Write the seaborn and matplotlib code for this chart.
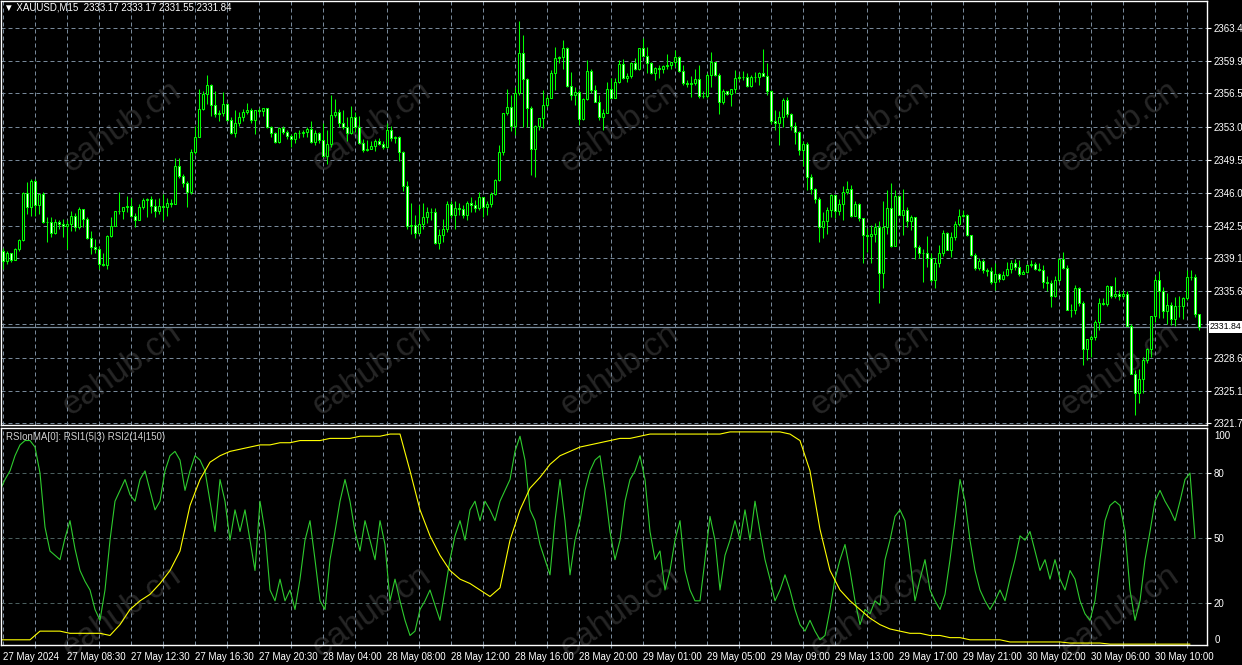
import numpy as np
import pandas as pd
import matplotlib
matplotlib.use("Agg")
import matplotlib.pyplot as plt
import seaborn as sns

# XAUUSD M15, 300 bars (27 May 2024 .. 30 May 2024)
opens = [
    2339.9, 2338.8, 2339.6, 2338.9, 2340.1, 2341.0, 2346.0, 2344.5, 2347.3, 2344.7,
    2345.9, 2342.9, 2342.9, 2341.8, 2342.9, 2342.7, 2342.5, 2342.7, 2343.6, 2342.4,
    2344.3, 2343.2, 2341.2, 2340.3, 2340.1, 2338.5, 2338.4, 2341.4, 2342.5, 2344.1,
    2344.1, 2344.5, 2344.6, 2343.6, 2343.1, 2344.5, 2345.2, 2345.4, 2344.6, 2344.1,
    2344.6, 2344.5, 2344.9, 2344.8, 2348.8, 2347.8, 2347.0, 2346.1, 2350.3, 2351.9,
    2354.9, 2356.4, 2357.4, 2355.3, 2354.3, 2354.4, 2355.4, 2353.7, 2352.3, 2353.4,
    2354.0, 2354.5, 2354.7, 2353.7, 2354.7, 2354.6, 2355.0, 2352.9, 2352.3, 2351.4,
    2352.8, 2352.4, 2352.0, 2351.7, 2352.3, 2352.3, 2352.4, 2352.7, 2351.4, 2352.3,
    2351.6, 2349.9, 2351.2, 2354.2, 2354.5, 2353.4, 2353.0, 2352.3, 2354.0, 2353.0,
    2351.3, 2350.5, 2350.6, 2350.9, 2351.5, 2351.2, 2350.8, 2352.6, 2351.8, 2351.9,
    2350.3, 2346.7, 2342.5, 2342.6, 2341.8, 2342.7, 2343.5, 2344.0, 2344.0, 2340.7,
    2341.5, 2342.2, 2344.8, 2343.7, 2344.4, 2344.3, 2343.7, 2344.9, 2344.7, 2344.4,
    2345.6, 2344.5, 2344.8, 2345.9, 2347.4, 2350.3, 2354.4, 2355.1, 2353.1, 2356.5,
    2360.8, 2358.0, 2355.0, 2350.6, 2353.1, 2353.9, 2355.3, 2356.0, 2358.7, 2360.2,
    2360.3, 2361.3, 2357.3, 2356.3, 2356.6, 2353.8, 2355.9, 2358.9, 2356.9, 2355.6,
    2354.0, 2354.4, 2357.0, 2356.0, 2357.7, 2359.6, 2358.1, 2358.3, 2359.7, 2359.1,
    2361.3, 2360.4, 2359.7, 2358.7, 2359.2, 2359.1, 2359.4, 2359.5, 2359.8, 2360.3,
    2358.9, 2357.6, 2357.5, 2357.6, 2358.0, 2356.2, 2356.2, 2358.4, 2359.8, 2358.4,
    2355.6, 2356.8, 2356.4, 2357.0, 2358.1, 2358.2, 2358.2, 2357.3, 2358.2, 2358.2,
    2358.6, 2358.3, 2356.8, 2353.6, 2353.4, 2354.0, 2355.8, 2354.3, 2353.1, 2352.4,
    2350.5, 2351.2, 2347.7, 2346.4, 2345.4, 2342.4, 2343.0, 2344.2, 2345.8, 2344.1,
    2344.8, 2346.1, 2346.4, 2343.6, 2344.8, 2343.3, 2341.6, 2341.4, 2341.7, 2342.4,
    2337.5, 2342.4, 2344.4, 2340.4, 2345.7, 2343.7, 2344.2, 2343.0, 2343.4, 2340.3,
    2339.6, 2339.6, 2339.1, 2336.8, 2338.6, 2339.7, 2341.8, 2340.0, 2341.3, 2342.7,
    2343.6, 2343.7, 2341.6, 2339.4, 2338.1, 2338.8, 2337.8, 2337.7, 2336.6, 2337.4,
    2336.9, 2337.3, 2338.0, 2338.6, 2338.2, 2337.4, 2337.6, 2338.4, 2338.5, 2338.0,
    2337.8, 2336.6, 2336.5, 2335.1, 2336.8, 2339.0, 2338.1, 2333.6, 2333.6, 2336.0,
    2334.4, 2329.5, 2330.6, 2330.8, 2332.4, 2334.4, 2334.3, 2336.2, 2335.1, 2335.3,
    2335.1, 2335.3, 2331.9, 2326.9, 2324.9, 2326.3, 2328.3, 2329.5, 2333.0, 2336.8,
    2335.6, 2333.5, 2334.2, 2332.7, 2334.1, 2334.1, 2334.9, 2337.1, 2337.1, 2333.17,
]
highs = [
    2340.2, 2339.9, 2339.7, 2340.2, 2341.1, 2346.1, 2347.1, 2347.5, 2347.5, 2345.9,
    2346.1, 2343.4, 2343.4, 2343.2, 2343.1, 2343.2, 2343.1, 2344.1, 2343.9, 2344.5,
    2344.3, 2343.4, 2342.0, 2341.1, 2340.4, 2339.7, 2341.5, 2343.4, 2344.1, 2346.1,
    2344.5, 2345.7, 2345.5, 2343.9, 2344.8, 2345.5, 2345.5, 2345.7, 2345.3, 2345.5,
    2345.9, 2345.5, 2345.3, 2349.7, 2349.7, 2348.0, 2347.3, 2350.6, 2353.1, 2357.0,
    2356.8, 2358.4, 2357.5, 2356.8, 2354.7, 2356.6, 2355.5, 2354.0, 2354.7, 2354.5,
    2354.8, 2355.5, 2355.0, 2354.7, 2355.0, 2355.0, 2355.0, 2353.1, 2352.4, 2353.0,
    2353.1, 2352.6, 2352.2, 2352.4, 2352.6, 2352.6, 2353.0, 2353.6, 2352.6, 2352.4,
    2353.4, 2352.6, 2356.3, 2355.9, 2354.8, 2354.7, 2354.0, 2355.2, 2354.5, 2354.1,
    2351.7, 2351.6, 2351.5, 2351.7, 2351.8, 2351.5, 2353.4, 2353.1, 2352.0, 2352.0,
    2350.4, 2347.3, 2344.9, 2343.7, 2344.7, 2344.9, 2344.5, 2344.4, 2344.4, 2342.2,
    2343.2, 2345.1, 2345.1, 2345.1, 2344.9, 2344.7, 2345.1, 2345.6, 2345.2, 2346.1,
    2345.6, 2345.1, 2346.1, 2347.5, 2351.0, 2354.4, 2357.0, 2356.3, 2357.2, 2364.1,
    2362.7, 2358.1, 2355.2, 2353.2, 2353.9, 2356.9, 2356.3, 2359.0, 2361.4, 2360.4,
    2362.1, 2361.4, 2358.8, 2357.2, 2356.9, 2356.0, 2360.0, 2359.1, 2357.4, 2356.3,
    2354.9, 2357.7, 2358.1, 2358.1, 2360.0, 2360.1, 2358.6, 2359.8, 2360.2, 2361.3,
    2362.3, 2361.4, 2359.8, 2359.3, 2359.5, 2359.5, 2360.7, 2359.8, 2361.1, 2360.4,
    2359.5, 2357.9, 2358.3, 2359.1, 2359.5, 2356.7, 2358.6, 2360.9, 2359.8, 2358.6,
    2357.0, 2356.8, 2357.0, 2359.0, 2358.5, 2358.9, 2358.6, 2358.4, 2358.8, 2358.8,
    2361.2, 2359.7, 2356.9, 2354.7, 2354.6, 2356.0, 2356.1, 2354.4, 2353.5, 2352.5,
    2351.5, 2351.4, 2348.0, 2346.5, 2345.6, 2344.0, 2344.5, 2345.9, 2345.8, 2345.4,
    2346.7, 2347.2, 2346.8, 2345.1, 2344.9, 2343.3, 2342.3, 2342.6, 2342.8, 2343.0,
    2345.1, 2346.3, 2347.0, 2346.3, 2345.8, 2346.4, 2344.5, 2343.7, 2343.5, 2340.5,
    2340.1, 2341.4, 2339.6, 2339.1, 2340.5, 2342.1, 2341.9, 2341.9, 2343.0, 2344.3,
    2344.2, 2343.8, 2341.6, 2339.6, 2339.1, 2339.0, 2338.1, 2338.2, 2338.6, 2337.5,
    2337.7, 2338.7, 2338.9, 2339.0, 2338.9, 2337.9, 2338.5, 2338.9, 2338.7, 2338.6,
    2338.4, 2337.2, 2336.8, 2337.2, 2339.1, 2339.8, 2338.4, 2334.3, 2336.3, 2336.1,
    2334.6, 2330.6, 2331.0, 2332.6, 2334.9, 2334.9, 2336.3, 2336.1, 2337.1, 2335.7,
    2335.7, 2335.6, 2332.2, 2327.3, 2327.4, 2328.7, 2329.6, 2333.0, 2337.2, 2337.7,
    2336.1, 2335.4, 2334.5, 2335.0, 2335.1, 2335.0, 2337.8, 2337.9, 2337.4, 2333.17,
]
lows = [
    2338.0, 2338.5, 2338.7, 2338.9, 2339.9, 2340.9, 2343.8, 2343.6, 2343.6, 2343.8,
    2342.8, 2340.8, 2341.3, 2341.7, 2342.2, 2341.3, 2340.1, 2342.0, 2342.0, 2342.2,
    2342.4, 2341.1, 2339.5, 2339.7, 2338.0, 2338.3, 2338.0, 2341.3, 2342.5, 2343.8,
    2343.2, 2344.0, 2343.4, 2342.4, 2343.1, 2344.3, 2343.4, 2343.9, 2343.4, 2343.8,
    2343.1, 2343.6, 2344.5, 2344.8, 2347.6, 2346.6, 2344.5, 2345.9, 2350.1, 2351.9,
    2354.7, 2355.4, 2354.1, 2354.0, 2353.6, 2354.1, 2353.6, 2352.2, 2351.9, 2353.1,
    2353.6, 2354.3, 2353.4, 2352.2, 2354.3, 2354.1, 2352.8, 2351.9, 2351.3, 2351.3,
    2352.2, 2351.7, 2350.8, 2351.3, 2351.8, 2351.9, 2351.9, 2351.3, 2351.0, 2351.3,
    2349.8, 2349.0, 2350.8, 2354.0, 2352.9, 2352.7, 2351.5, 2352.2, 2352.4, 2351.2,
    2350.3, 2350.4, 2350.6, 2350.4, 2351.0, 2350.6, 2350.7, 2351.5, 2351.3, 2349.4,
    2346.2, 2342.2, 2341.7, 2341.2, 2341.7, 2342.2, 2342.8, 2343.1, 2340.6, 2340.1,
    2340.8, 2341.9, 2343.3, 2342.2, 2343.7, 2343.3, 2343.1, 2344.0, 2344.0, 2344.2,
    2343.5, 2343.7, 2344.5, 2345.8, 2347.2, 2350.0, 2354.2, 2352.5, 2352.1, 2356.3,
    2353.0, 2353.0, 2347.9, 2347.7, 2352.6, 2352.8, 2355.1, 2356.0, 2356.9, 2359.7,
    2359.1, 2357.2, 2355.8, 2355.3, 2353.2, 2353.7, 2355.8, 2356.5, 2355.6, 2353.7,
    2352.6, 2354.4, 2356.0, 2356.0, 2357.6, 2358.0, 2357.7, 2358.1, 2359.0, 2359.0,
    2360.4, 2358.7, 2358.5, 2357.9, 2358.1, 2358.6, 2359.1, 2359.1, 2359.3, 2358.8,
    2357.4, 2357.2, 2356.1, 2357.4, 2356.0, 2356.0, 2356.0, 2357.2, 2358.3, 2354.3,
    2355.4, 2356.3, 2355.2, 2356.5, 2357.9, 2357.9, 2357.2, 2357.2, 2357.7, 2357.4,
    2358.3, 2356.3, 2353.3, 2352.6, 2351.0, 2353.0, 2354.0, 2352.6, 2351.2, 2350.0,
    2348.8, 2346.3, 2345.9, 2344.9, 2340.8, 2341.2, 2341.7, 2343.5, 2343.3, 2343.7,
    2343.1, 2345.9, 2343.5, 2343.7, 2343.0, 2338.6, 2339.8, 2338.6, 2340.8, 2334.4,
    2335.9, 2341.7, 2340.3, 2340.5, 2343.7, 2341.5, 2342.4, 2342.1, 2339.0, 2339.1,
    2336.6, 2338.2, 2336.6, 2335.9, 2338.2, 2339.3, 2340.0, 2339.2, 2341.0, 2342.5,
    2343.5, 2341.4, 2339.3, 2337.9, 2337.9, 2337.5, 2337.2, 2336.4, 2335.7, 2336.6,
    2336.8, 2337.2, 2337.5, 2337.9, 2337.2, 2337.4, 2337.5, 2338.2, 2337.9, 2337.7,
    2335.9, 2335.6, 2333.9, 2335.0, 2336.6, 2338.0, 2333.6, 2332.9, 2333.2, 2334.0,
    2327.8, 2328.3, 2328.7, 2330.5, 2331.5, 2334.2, 2334.0, 2334.9, 2334.9, 2334.7,
    2334.9, 2331.9, 2326.9, 2322.5, 2323.8, 2324.9, 2328.0, 2328.7, 2332.4, 2332.8,
    2332.8, 2332.2, 2332.0, 2331.9, 2332.9, 2332.7, 2334.7, 2336.8, 2332.9, 2331.55,
]
closes = [
    2338.8, 2339.6, 2338.9, 2340.1, 2341.0, 2346.0, 2344.5, 2347.3, 2344.7, 2345.9,
    2342.9, 2342.9, 2341.8, 2342.9, 2342.7, 2342.5, 2342.7, 2343.6, 2342.4, 2344.3,
    2343.2, 2341.2, 2340.3, 2340.1, 2338.5, 2338.4, 2341.4, 2342.5, 2344.1, 2344.1,
    2344.5, 2344.6, 2343.6, 2343.1, 2344.5, 2345.2, 2345.4, 2344.6, 2344.1, 2344.6,
    2344.5, 2344.9, 2344.8, 2348.8, 2347.8, 2347.0, 2346.1, 2350.3, 2351.9, 2354.9,
    2356.4, 2357.4, 2355.3, 2354.3, 2354.4, 2355.4, 2353.7, 2352.3, 2353.4, 2354.0,
    2354.5, 2354.7, 2353.7, 2354.7, 2354.6, 2355.0, 2352.9, 2352.3, 2351.4, 2352.8,
    2352.4, 2352.0, 2351.7, 2352.3, 2352.3, 2352.4, 2352.7, 2351.4, 2352.3, 2351.6,
    2349.9, 2351.2, 2354.2, 2354.5, 2353.4, 2353.0, 2352.3, 2354.0, 2353.0, 2351.3,
    2350.5, 2350.6, 2350.9, 2351.5, 2351.2, 2350.8, 2352.6, 2351.8, 2351.9, 2350.3,
    2346.7, 2342.5, 2342.6, 2341.8, 2342.7, 2343.5, 2344.0, 2344.0, 2340.7, 2341.5,
    2342.2, 2344.8, 2343.7, 2344.4, 2344.3, 2343.7, 2344.9, 2344.7, 2344.4, 2345.6,
    2344.5, 2344.8, 2345.9, 2347.4, 2350.3, 2354.4, 2355.1, 2353.1, 2356.5, 2360.8,
    2358.0, 2355.0, 2350.6, 2353.1, 2353.9, 2355.3, 2356.0, 2358.7, 2360.2, 2360.3,
    2361.3, 2357.3, 2356.3, 2356.6, 2353.8, 2355.9, 2358.9, 2356.9, 2355.6, 2354.0,
    2354.4, 2357.0, 2356.0, 2357.7, 2359.6, 2358.1, 2358.3, 2359.7, 2359.1, 2361.3,
    2360.4, 2359.7, 2358.7, 2359.2, 2359.1, 2359.4, 2359.5, 2359.8, 2360.3, 2358.9,
    2357.6, 2357.5, 2357.6, 2358.0, 2356.2, 2356.2, 2358.4, 2359.8, 2358.4, 2355.6,
    2356.8, 2356.4, 2357.0, 2358.1, 2358.2, 2358.2, 2357.3, 2358.2, 2358.2, 2358.6,
    2358.3, 2356.8, 2353.6, 2353.4, 2354.0, 2355.8, 2354.3, 2353.1, 2352.4, 2350.5,
    2351.2, 2347.7, 2346.4, 2345.4, 2342.4, 2343.0, 2344.2, 2345.8, 2344.1, 2344.8,
    2346.1, 2346.4, 2343.6, 2344.8, 2343.3, 2341.6, 2341.4, 2341.7, 2342.4, 2337.5,
    2342.4, 2344.4, 2340.4, 2345.7, 2343.7, 2344.2, 2343.0, 2343.4, 2340.3, 2339.6,
    2339.6, 2339.1, 2336.8, 2338.6, 2339.7, 2341.8, 2340.0, 2341.3, 2342.7, 2343.6,
    2343.7, 2341.6, 2339.4, 2338.1, 2338.8, 2337.8, 2337.7, 2336.6, 2337.4, 2336.9,
    2337.3, 2338.0, 2338.6, 2338.2, 2337.4, 2337.6, 2338.4, 2338.5, 2338.0, 2337.8,
    2336.6, 2336.5, 2335.1, 2336.8, 2339.0, 2338.1, 2333.6, 2333.6, 2336.0, 2334.4,
    2329.5, 2330.6, 2330.8, 2332.4, 2334.4, 2334.3, 2336.2, 2335.1, 2335.3, 2335.1,
    2335.3, 2331.9, 2326.9, 2324.9, 2326.3, 2328.3, 2329.5, 2333.0, 2336.8, 2335.6,
    2333.5, 2334.2, 2332.7, 2334.1, 2334.1, 2334.9, 2337.1, 2337.1, 2333.17, 2331.84,
]

time_labels = [
    "27 May 2024", "27 May 08:30", "27 May 12:30", "27 May 16:30", "27 May 20:30",
    "28 May 04:00", "28 May 08:00", "28 May 12:00", "28 May 16:00", "28 May 20:00",
    "29 May 01:00", "29 May 05:00", "29 May 09:00", "29 May 13:00", "29 May 17:00",
    "29 May 21:00", "30 May 02:00", "30 May 06:00", "30 May 10:00",
]
price_levels = [2363.4, 2359.9, 2356.5, 2353.0, 2349.5, 2346.0, 2342.5,
                2339.1, 2335.6, 2332.1, 2328.6, 2325.1, 2321.7]
bid = 2331.84
title = "\u25bc XAUUSD,M15  2333.17 2333.17 2331.55 2331.84"
rsi_title = "RSIonMA[0]: RSI1(5|3) RSI2(14|150)"
rsi_levels = [20, 50, 80]

# RSI1(5|3), read every 1.25 bars
rsi_fast = [
    72, 77, 81, 88, 93, 95, 95, 92, 80, 55, 44, 42, 40, 50, 58, 45, 35, 30, 26, 17,
    12, 26, 49, 67, 72, 77, 70, 67, 77, 81, 72, 63, 67, 81, 88, 90, 86, 72, 81, 88,
    86, 81, 67, 53, 77, 67, 49, 63, 53, 63, 49, 35, 67, 53, 26, 21, 31, 21, 26, 17,
    31, 49, 58, 40, 21, 17, 40, 53, 67, 77, 67, 53, 44, 58, 49, 40, 58, 47, 21, 31,
    21, 12, 5, 7, 17, 21, 26, 19, 12, 26, 40, 51, 58, 49, 63, 67, 58, 67, 63, 58,
    67, 72, 77, 90, 97, 86, 63, 58, 47, 40, 33, 58, 77, 58, 33, 49, 58, 72, 81, 86,
    88, 72, 53, 40, 49, 67, 77, 81, 88, 77, 53, 40, 44, 26, 35, 49, 58, 35, 26, 21,
    21, 40, 60, 49, 26, 42, 49, 58, 49, 63, 49, 67, 53, 40, 31, 21, 26, 33, 26, 17,
    10, 7, 12, 7, 3, 5, 17, 31, 40, 47, 35, 21, 10, 17, 15, 21, 19, 40, 49, 60,
    63, 58, 40, 21, 31, 40, 26, 21, 17, 24, 40, 58, 77, 67, 49, 35, 26, 21, 17, 21,
    26, 21, 31, 40, 51, 49, 53, 44, 35, 40, 31, 40, 31, 26, 35, 31, 21, 15, 12, 21,
    40, 58, 65, 67, 65, 53, 26, 12, 21, 40, 53, 67, 72, 67, 63, 58, 67, 77, 80, 50,
]
# RSI2(14|150), read every 2.5 bars
rsi_slow = [
    3, 3, 3, 3, 7, 7, 7, 6, 6, 6,
    6, 5, 10, 17, 21, 24, 29, 35, 44, 65,
    77, 85, 88, 90, 91, 92, 93, 93, 94, 94,
    95, 95, 95, 96, 96, 96, 97, 97, 97, 98,
    98, 81, 63, 51, 42, 35, 31, 29, 26, 23,
    27, 49, 63, 73, 78, 84, 88, 90, 92, 93,
    94, 95, 96, 96, 97, 98, 98, 98, 98, 98,
    98, 98, 98, 99, 99, 99, 99, 99, 99, 98,
    95, 81, 54, 35, 26, 21, 17, 13, 10, 8,
    7, 6, 6, 5, 5, 4, 4, 3, 3, 3,
    3, 2, 2, 2, 2, 2, 2, 1.5, 1.5, 1.5,
    1.5, 1, 1, 1, 1, 1, 1, 1, 1, 1,
]

assert len(opens) == len(highs) == len(lows) == len(closes) == 300

LIME = "#00ff00"
GRID = "#778899"
DASH = (0, (4, 3))
W, H = 1242, 665

sns.set_theme(style="dark", rc={"axes.facecolor": "none", "figure.facecolor": "black"})
plt.rcParams["font.family"] = ["Liberation Sans", "DejaVu Sans"]

fig = plt.figure(figsize=(W / 100, H / 100), dpi=100, facecolor="black")
ax = fig.add_axes([1 / W, 240 / H, 1206 / W, 424 / H])
ax2 = fig.add_axes([1 / W, 20 / H, 1206 / W, 217 / H])

# watermark, behind everything
for wy in (127, 370, 612):
    for wx in (122, 372, 620, 870, 1120):
        fig.text(wx / W, 1 - wy / H, "eahub.cn", rotation=35, ha="center", va="center",
                 fontsize=24, color="#262626", zorder=-1)

df = pd.DataFrame({"o": opens, "h": highs, "l": lows, "c": closes})
df["x"] = np.arange(len(df))
bull = df["c"] >= df["o"]

ax.vlines(df["x"], df["l"], df["h"], color=LIME, linewidth=0.75, zorder=2)
ax.bar(df["x"], (df["c"] - df["o"]).abs(), bottom=np.minimum(df["o"], df["c"]),
       width=0.5, color=np.where(bull, "black", "white"), edgecolor=LIME,
       linewidth=0.75, zorder=3)
ax.axhline(bid, color=GRID, linewidth=0.9, zorder=1.5)

ax.set_xlim(-0.5, 301)
ax.set_ylim(2321.49, 2366.25)
ax.set_xticks(range(0, 301, 8))
ax.set_xticklabels([])
ax.tick_params(axis="x", length=0)
ax.yaxis.tick_right()
ax.set_yticks(price_levels)
ax.set_yticklabels(["" if p == 2332.1 else f"{p:.1f}" for p in price_levels])
ax.tick_params(axis="y", colors="white", labelcolor="white", labelsize=7,
               length=3, width=0.8, pad=2)
ax.grid(True, color=GRID, linestyle=DASH, linewidth=0.72)
ax.annotate(f"{bid:.2f}", xy=(1, bid), xycoords=("axes fraction", "data"),
            xytext=(2, 0), textcoords="offset points", va="center", ha="left",
            fontsize=6.3, color="black", annotation_clip=False,
            bbox=dict(boxstyle="square,pad=0.12", fc="white", ec="none"))

# RSI panel
fast_pos = np.arange(len(rsi_fast)) * 1.25 - 0.75
slow_pos = np.arange(len(rsi_slow)) * 2.5 - 0.75
sns.lineplot(x=fast_pos, y=rsi_fast, ax=ax2, color="#2ecc2e", linewidth=0.8, legend=False)
sns.lineplot(x=slow_pos, y=rsi_slow, ax=ax2, color="#ffff00", linewidth=0.8, legend=False)
for lv in rsi_levels:
    ax2.axhline(lv, color="#4a5e5e", linestyle=DASH, linewidth=0.72, zorder=0.6)

ax2.set_xlim(-0.5, 301)
ax2.set_ylim(0.6, 100.8)
ax2.set_xticks(range(0, 300, 16))
ax2.set_xticklabels(time_labels, ha="left")
ax2.set_xticks(range(8, 300, 16), minor=True)
ax2.tick_params(axis="x", which="major", colors="white", labelcolor="white",
                labelsize=7, length=4, width=0.8, pad=1, direction="out")
ax2.tick_params(axis="x", which="minor", colors=GRID, length=2, width=0.8,
                direction="out", bottom=True)
ax2.grid(True, axis="x", which="both", color=GRID, linestyle=DASH, linewidth=0.72)
ax2.yaxis.tick_right()
ax2.set_yticks(rsi_levels)
ax2.set_yticklabels([str(v) for v in rsi_levels])
ax2.tick_params(axis="y", colors="white", labelcolor="white", labelsize=7,
                length=3, width=0.8, pad=2)
ax2.text(1.006, 97, "100", transform=ax2.get_yaxis_transform(), color="white",
         fontsize=7, va="center", ha="left")
ax2.text(1.006, 3, "0", transform=ax2.get_yaxis_transform(), color="white",
         fontsize=7, va="center", ha="left")
ax2.set_xlabel("")
ax2.set_ylabel("")

for a in (ax, ax2):
    for s in a.spines.values():
        s.set_color("white")
        s.set_linewidth(1)
        s.set_visible(True)

fig.text(4 / W, 1 - 8 / H, title, color="white", fontsize=7, va="center", ha="left")
fig.text(6 / W, 1 - 437 / H, rsi_title, color="#d0d0d0", fontsize=7, va="center", ha="left")

fig.savefig("out.png", dpi=100, facecolor="black")
